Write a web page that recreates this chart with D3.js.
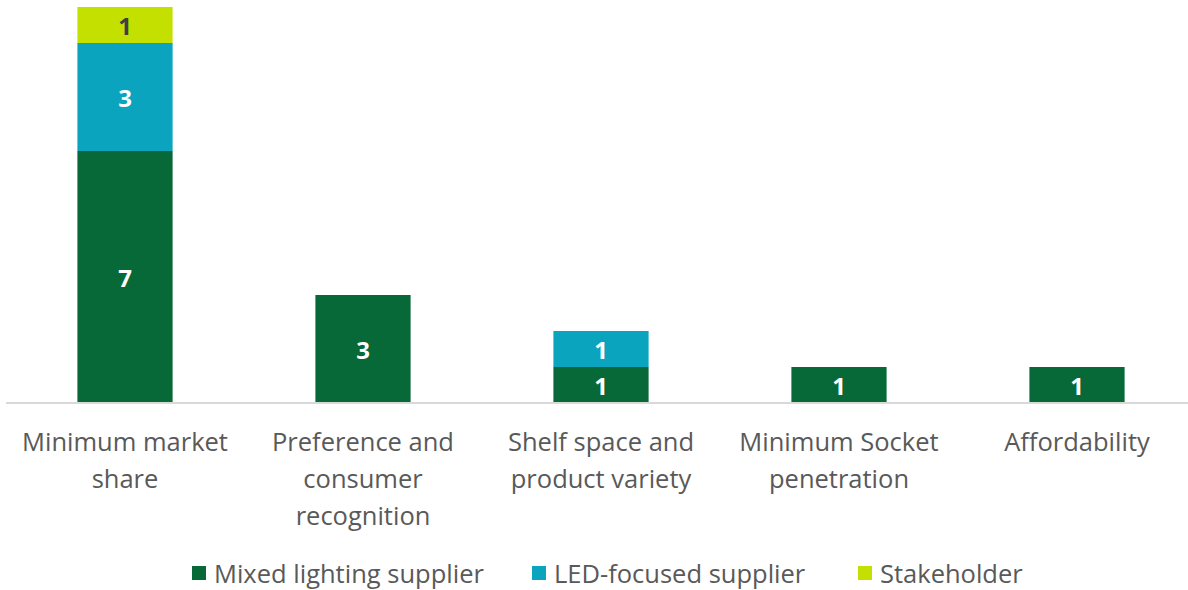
<!DOCTYPE html>
<html>
<head>
<meta charset="utf-8">
<script src="https://d3js.org/d3.v7.min.js"></script>
<style>
body { margin: 0; background: #fff; overflow: hidden; }
text { font-family: "Open Sans", Lato, sans-serif; }
.cat { font-size: 25.5px; fill: #595959; }
.val { font-size: 24px; font-weight: bold; }
.leg { font-size: 25.5px; fill: #595959; }
</style>
</head>
<body>
<svg width="1188" height="590"></svg>
<script>
// chart data
const categories = [
  ['Minimum market', 'share'],
  ['Preference and', 'consumer', 'recognition'],
  ['Shelf space and', 'product variety'],
  ['Minimum Socket', 'penetration'],
  ['Affordability']
];
const seriesNames = ['Mixed lighting supplier', 'LED-focused supplier', 'Stakeholder'];
const mixed = [7, 3, 1, 1, 1];
const ledFocused = [3, 0, 1, 0, 0];
const stakeholder = [1, 0, 0, 0, 0];
const colors = ['#076937', '#0aa4bf', '#c4e000'];
const labelColors = ['#ffffff', '#ffffff', '#404040'];

const svg = d3.select('svg');
const baseY = 403;

const table = categories.map((c, i) => ({
  key: i, cat: c, s0: mixed[i], s1: ledFocused[i], s2: stakeholder[i]
}));
const stack = d3.stack().keys(['s0', 's1', 's2'])(table);

const x = d3.scaleBand()
  .domain(table.map(d => d.key))
  .range([6, 1196])
  .paddingInner(0.6)
  .paddingOuter(0.3);

const y = d3.scaleLinear().domain([0, 11]).range([baseY, 7]);

// bars
const layers = svg.selectAll('g.layer').data(stack).enter().append('g')
  .attr('class', 'layer')
  .attr('fill', (d, i) => colors[i]);

layers.selectAll('rect').data(d => d.filter(p => p[1] - p[0] > 0)).enter().append('rect')
  .attr('x', d => x(d.data.key))
  .attr('width', x.bandwidth())
  .attr('y', d => y(d[1]))
  .attr('height', d => y(d[0]) - y(d[1]));

layers.each(function(layer, li) {
  d3.select(this).selectAll('text').data(layer.filter(p => p[1] - p[0] > 0)).enter().append('text')
    .attr('class', 'val')
    .attr('fill', labelColors[li])
    .attr('text-anchor', 'middle')
    .attr('dominant-baseline', 'central')
    .attr('x', d => x(d.data.key) + x.bandwidth() / 2)
    .attr('y', d => (y(d[0]) + y(d[1])) / 2)
    .text(d => d[1] - d[0]);
});

// axis line
const xAxis = d3.axisBottom(x).tickSize(0).tickFormat('');
svg.append('g')
  .attr('transform', `translate(0,${baseY})`)
  .call(xAxis)
  .call(g => g.select('.domain').attr('stroke', '#d9d9d9').attr('stroke-width', 2)
    .attr('d', 'M6,0H1188'));

// category labels
svg.selectAll('text.cat').data(table).enter().append('text')
  .attr('class', 'cat')
  .attr('text-anchor', 'middle')
  .attr('transform', d => `translate(${x(d.key) + x.bandwidth() / 2},451)`)
  .each(function(d) {
    d3.select(this).selectAll('tspan').data(d.cat).enter().append('tspan')
      .attr('x', 0)
      .attr('y', (t, i) => i * 37)
      .text(t => t);
  });

// legend
const legendX = [192, 532, 858];
const leg = svg.selectAll('g.leg').data(seriesNames).enter().append('g')
  .attr('transform', (d, i) => `translate(${legendX[i]},573)`);
leg.append('rect')
  .attr('x', 0).attr('y', -7).attr('width', 14).attr('height', 14)
  .attr('fill', (d, i) => colors[i]);
leg.append('text')
  .attr('class', 'leg')
  .attr('x', 22)
  .attr('dominant-baseline', 'central')
  .text(d => d);
</script>
</body>
</html>
